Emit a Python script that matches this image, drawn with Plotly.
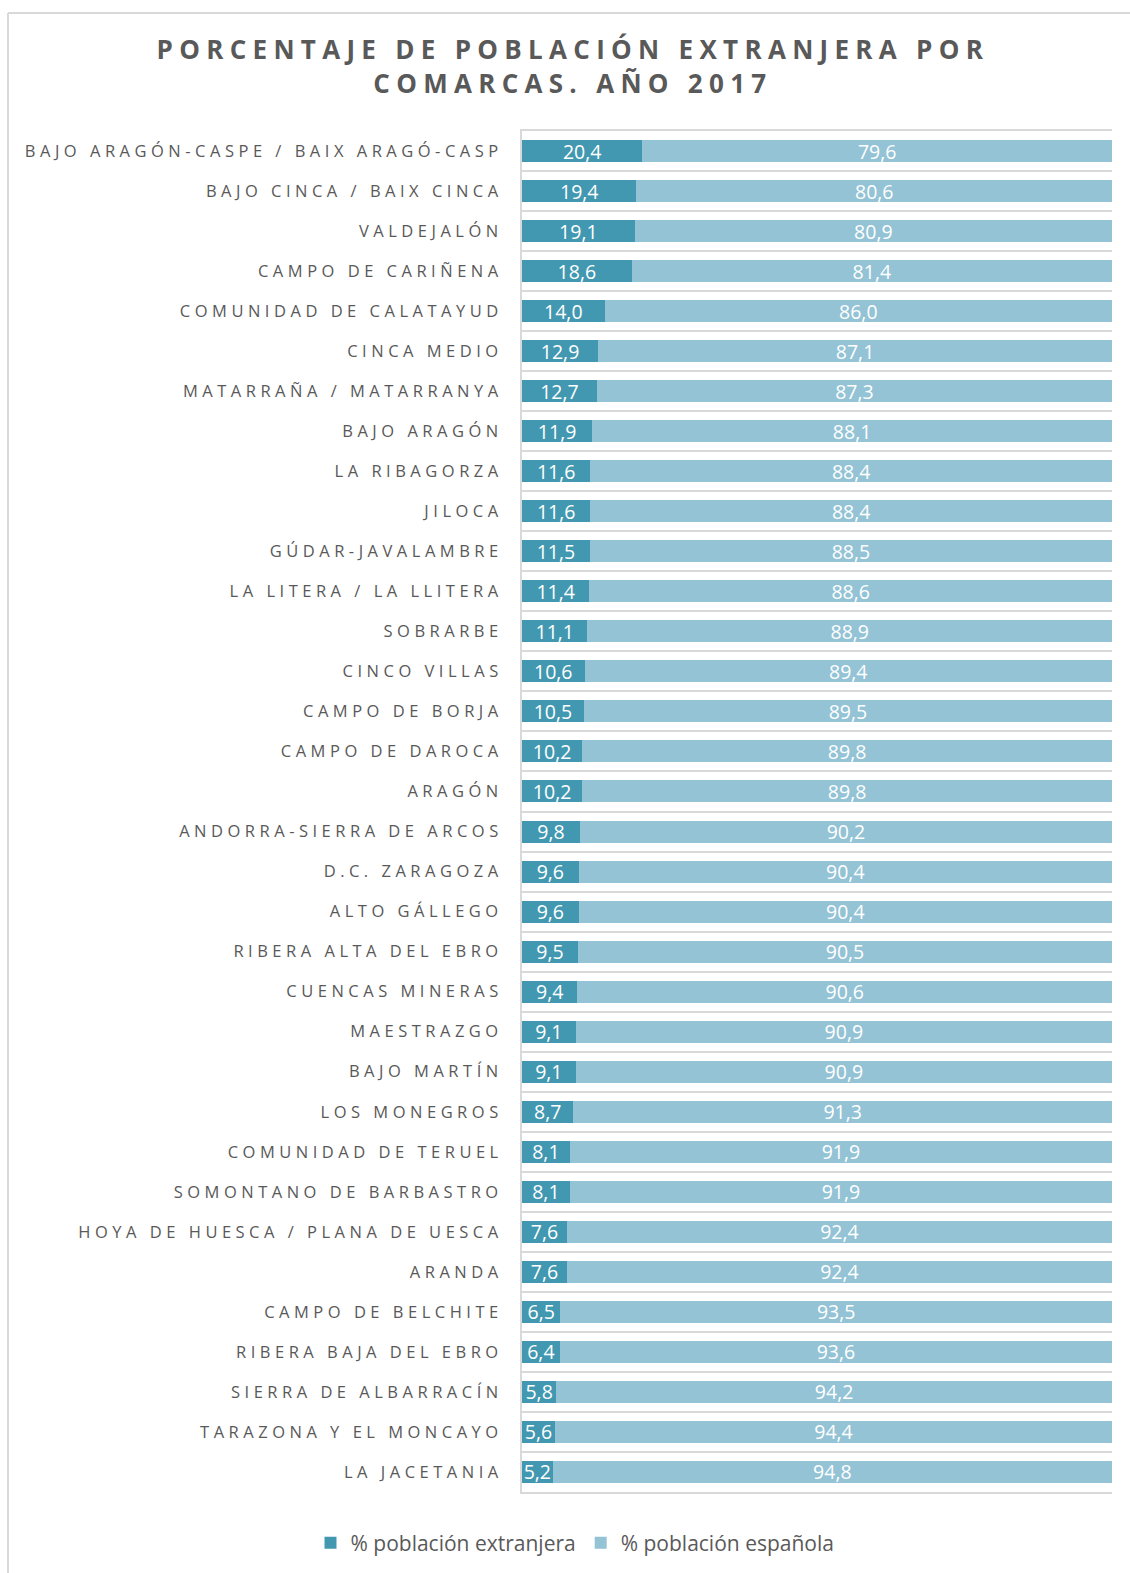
import plotly.graph_objects as go

comarcas = [
    "BAJO ARAGÓN-CASPE / BAIX ARAGÓ-CASP", "BAJO CINCA / BAIX CINCA", "VALDEJALÓN",
    "CAMPO DE CARIÑENA", "COMUNIDAD DE CALATAYUD", "CINCA MEDIO", "MATARRAÑA / MATARRANYA",
    "BAJO ARAGÓN", "LA RIBAGORZA", "JILOCA", "GÚDAR-JAVALAMBRE", "LA LITERA / LA LLITERA",
    "SOBRARBE", "CINCO VILLAS", "CAMPO DE BORJA", "CAMPO DE DAROCA", "ARAGÓN",
    "ANDORRA-SIERRA DE ARCOS", "D.C. ZARAGOZA", "ALTO GÁLLEGO", "RIBERA ALTA DEL EBRO",
    "CUENCAS MINERAS", "MAESTRAZGO", "BAJO MARTÍN", "LOS MONEGROS", "COMUNIDAD DE TERUEL",
    "SOMONTANO DE BARBASTRO", "HOYA DE HUESCA / PLANA DE UESCA", "ARANDA",
    "CAMPO DE BELCHITE", "RIBERA BAJA DEL EBRO", "SIERRA DE ALBARRACÍN",
    "TARAZONA Y EL MONCAYO", "LA JACETANIA",
]
pct_extranjera = [20.4, 19.4, 19.1, 18.6, 14.0, 12.9, 12.7, 11.9, 11.6, 11.6, 11.5, 11.4,
                  11.1, 10.6, 10.5, 10.2, 10.2, 9.8, 9.6, 9.6, 9.5, 9.4, 9.1, 9.1, 8.7,
                  8.1, 8.1, 7.6, 7.6, 6.5, 6.4, 5.8, 5.6, 5.2]
pct_espanola = [79.6, 80.6, 80.9, 81.4, 86.0, 87.1, 87.3, 88.1, 88.4, 88.4, 88.5, 88.6,
                88.9, 89.4, 89.5, 89.8, 89.8, 90.2, 90.4, 90.4, 90.5, 90.6, 90.9, 90.9, 91.3,
                91.9, 91.9, 92.4, 92.4, 93.5, 93.6, 94.2, 94.4, 94.8]
series_names = ["% población extranjera", "% población española"]

C_DARK = "#4298b0"
C_LIGHT = "#93c3d5"
GRAY = "#595959"
GRID = "#d9d9d9"
FONT = "Open Sans"

fig = go.Figure()
for name, vals, col in [(series_names[0], pct_extranjera, C_DARK),
                        (series_names[1], pct_espanola, C_LIGHT)]:
    fig.add_trace(go.Bar(
        y=comarcas, x=vals, name=name, orientation="h",
        marker=dict(color=col, line=dict(width=0)),
        texttemplate="%{x:.1f}", textposition="inside", insidetextanchor="middle",
        textangle=0, constraintext="none", cliponaxis=False,
        textfont=dict(family=FONT, size=19.5, color="white"),
    ))

W, H = 1130, 1573
L, R, T, B = 522, 18, 131, 81
pw, ph = W - L - R, H - T - B


def px(x):
    return (x - L) / pw


def py(y):
    return (H - B - y) / ph


fig.update_layout(
    width=W, height=H,
    barmode="stack", bargap=0.45,
    separators=", ",
    margin=dict(l=L, r=R, t=T, b=B, autoexpand=False),
    paper_bgcolor="white", plot_bgcolor="white",
    font=dict(family=FONT, color=GRAY),
    title=dict(
        text="PORCENTAJE DE POBLACIÓN EXTRANJERA POR<br>COMARCAS. AÑO 2017",
        x=0.507, xanchor="center", y=1 - 59 / H, yanchor="top",
        font=dict(family=FONT, size=26, color=GRAY, weight="bold"),
    ),
    uniformtext=dict(minsize=19.5, mode="show"),
    xaxis=dict(range=[0, 100], showticklabels=False, showgrid=False, zeroline=False,
               ticks="", showline=True, mirror=True, linecolor=GRID, linewidth=2,
               fixedrange=True),
    yaxis=dict(
        autorange="reversed", tickson="boundaries", showgrid=True,
        gridcolor=GRID, gridwidth=2, showline=True, linecolor=GRID, linewidth=2,
        ticks="", ticklabelstandoff=14, zeroline=False, automargin=False,
        tickfont=dict(family=FONT, size=16.5, color=GRAY),
    ),
    legend=dict(
        orientation="h", x=px(575), xanchor="center",
        yref="container", y=(H - 1543) / H, yanchor="middle",
        font=dict(family=FONT, size=21, color=GRAY),
        traceorder="normal", itemwidth=30,
    ),
    showlegend=True,
)

# outer frame of the chart
fig.add_shape(type="line", xref="paper", yref="paper",
              x0=px(8), x1=px(1135), y0=py(13), y1=py(13),
              line=dict(color=GRID, width=2))
fig.add_shape(type="line", xref="paper", yref="paper",
              x0=px(8), x1=px(8), y0=py(13), y1=py(1580),
              line=dict(color=GRID, width=2))

post = """
document.body.style.margin='0';
var gd = document.getElementById('{plot_id}');
function sp(){
  gd.querySelectorAll('.ytick text').forEach(function(t){t.style.letterSpacing='4.5px';});
  gd.querySelectorAll('.gtitle, .gtitle tspan').forEach(function(t){t.style.letterSpacing='6.3px';});
}
sp();
gd.on('plotly_afterplot', sp);
"""

fig.write_html("out.html", post_script=post, config={"displayModeBar": False})
